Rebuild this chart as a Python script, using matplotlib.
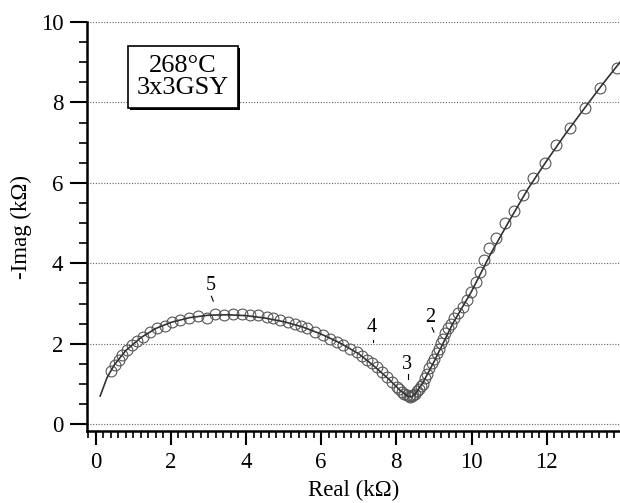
import matplotlib
matplotlib.use('Agg')
import matplotlib.pyplot as plt
from matplotlib.ticker import MultipleLocator
import matplotlib.patheffects as pe

plt.rcParams['font.family'] = ['Liberation Serif', 'DejaVu Serif']

real_meas = [0.40, 0.52, 0.61, 0.70, 0.83, 0.96, 1.10, 1.26, 1.45, 1.64,
             1.85, 2.03, 2.25, 2.49, 2.73, 2.97, 3.18, 3.42, 3.65, 3.89,
             4.11, 4.33, 4.55, 4.73, 4.91, 5.13, 5.31, 5.46, 5.62,
             5.84, 6.06, 6.24, 6.41, 6.59, 6.77, 6.95, 7.08, 7.21, 7.35,
             7.48, 7.61, 7.74, 7.88, 8.01,
             8.07, 8.14, 8.20, 8.28, 8.33, 8.37, 8.41, 8.45, 8.50, 8.55, 8.60, 8.65,
             8.70, 8.76, 8.81, 8.88, 8.94, 9.01, 9.07, 9.13, 9.18, 9.23, 9.30,
             9.38, 9.45, 9.53, 9.65, 9.77, 9.87, 9.99, 10.11, 10.23, 10.34,
             10.46, 10.65, 10.89, 11.14, 11.36, 11.63, 11.95, 12.26, 12.62,
             13.02, 13.42, 13.86]
imag_meas = [1.33, 1.47, 1.59, 1.72, 1.84, 1.97, 2.07, 2.17, 2.30, 2.38,
             2.44, 2.54, 2.59, 2.63, 2.69, 2.63, 2.74, 2.71, 2.74, 2.75,
             2.71, 2.71, 2.67, 2.63, 2.59, 2.54, 2.50, 2.44, 2.38,
             2.30, 2.21, 2.13, 2.05, 1.97, 1.88, 1.80, 1.69, 1.59, 1.51,
             1.41, 1.30, 1.18, 1.05, 0.93,
             0.87, 0.80, 0.75, 0.72, 0.69, 0.68, 0.70, 0.72, 0.76, 0.82, 0.88, 0.95,
             1.01, 1.14, 1.26, 1.39, 1.51, 1.63, 1.76, 1.88, 2.01, 2.13, 2.26,
             2.38, 2.50, 2.63, 2.77, 2.92, 3.10, 3.29, 3.54, 3.79, 4.08,
             4.37, 4.64, 5.01, 5.31, 5.70, 6.12, 6.49, 6.95, 7.36,
             7.86, 8.36, 8.86]

# fitted curve
real_fit = [0.12, 0.3, 0.5, 0.8, 1.2, 1.6, 2.0, 2.5, 3.0, 3.5, 4.0, 4.5, 5.0,
            5.5, 6.0, 6.5, 7.0, 7.4, 7.8, 8.1, 8.3, 8.4, 8.5, 8.7, 9.0, 9.5,
            10.0, 10.5, 11.0, 11.5, 12.0, 12.5, 13.0, 13.5, 13.95]
imag_fit = [0.70, 1.15, 1.48, 1.83, 2.15, 2.38, 2.53, 2.65, 2.71, 2.72, 2.70,
            2.64, 2.55, 2.42, 2.24, 2.02, 1.75, 1.45, 1.12, 0.84, 0.70, 0.68,
            0.75, 1.02, 1.55, 2.50, 3.30, 4.22, 5.05, 5.85, 6.55, 7.22, 7.85,
            8.47, 9.00]

# frequency markers: label, text position, tick start, tick end
freq_labels = ['5', '4', '3', '2']
freq_text = [(3.05, 3.46), (7.35, 2.41), (8.28, 1.49), (8.90, 2.66)]
freq_tick = [((3.08, 3.18), (3.13, 3.06)),
             ((7.38, 2.10), (7.38, 2.04)),
             ((8.31, 1.25), (8.31, 1.12)),
             ((8.95, 2.40), (9.00, 2.29))]

fig = plt.figure(figsize=(6.2, 5.03), dpi=100)
ax = fig.add_axes([0.1403, 0.1431, 0.8597, 0.8131])

ax.plot(real_fit, imag_fit, color='#333333', lw=1.2, zorder=3)
ax.plot(real_meas, imag_meas, 'o', mfc='none', mec='#555555', mew=0.8,
        ms=7.8, zorder=2)

for lab, (tx, ty), (p0, p1) in zip(freq_labels, freq_text, freq_tick):
    ax.text(tx, ty, lab, ha='center', va='center', fontsize=14.5)
    ax.plot([p0[0], p1[0]], [p0[1], p1[1]], color='black', lw=0.8)

ax.set_xlim(-0.23, 13.95)
ax.set_ylim(-0.17, 10.0)

for s in ['top', 'right']:
    ax.spines[s].set_visible(False)
for s in ['left', 'bottom']:
    ax.spines[s].set_linewidth(1.8)

ax.xaxis.set_major_locator(MultipleLocator(2))
ax.xaxis.set_minor_locator(MultipleLocator(0.2))
ax.yaxis.set_major_locator(MultipleLocator(2))
ax.yaxis.set_minor_locator(MultipleLocator(0.5))
ax.tick_params(which='major', length=10, width=1.5, labelsize=16.5,
               direction='out', pad=5)
ax.tick_params(which='minor', length=5, width=1.2, direction='out')
ax.tick_params(axis='y', which='major', length=12)
ax.tick_params(axis='y', which='minor', length=6)

ax.yaxis.grid(True, linestyle=(0, (1, 1.5)), color='#666666', lw=0.8)
ax.set_axisbelow(True)

ax.set_xlabel('Real (kΩ)', fontsize=16.5, labelpad=5)
ax.set_ylabel('-Imag (kΩ)', fontsize=16.5, labelpad=6)

box = ax.text(0.18, 0.866, '268°C\n3x3GSY', transform=ax.transAxes,
              ha='center', va='center', fontsize=19, linespacing=1.0,
              bbox=dict(boxstyle='square,pad=0.35', fc='white', ec='black', lw=1.2),
              zorder=5)
box.get_bbox_patch().set_path_effects(
    [pe.SimplePatchShadow(offset=(1.5, -1.5), shadow_rgbFace='black', alpha=1),
     pe.Normal()])

fig.savefig('out.png', dpi=100)
